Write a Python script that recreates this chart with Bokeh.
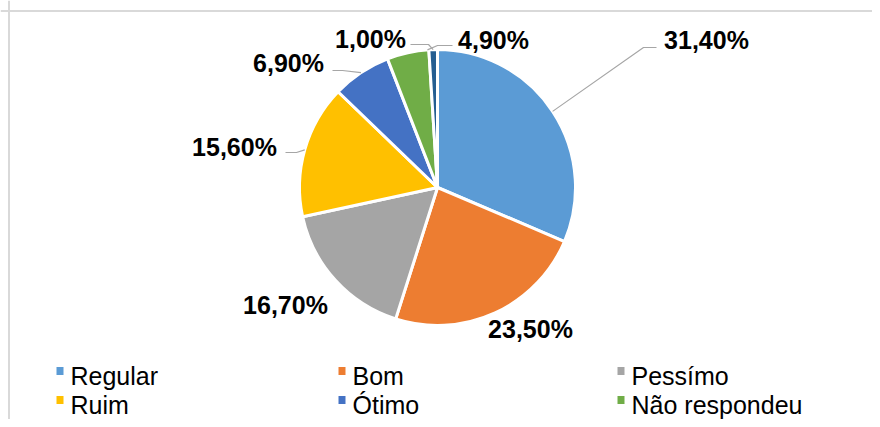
import numpy as np
from bokeh.plotting import figure
from bokeh.models import Range1d, Span, ColumnDataSource
from bokeh.core.properties import value
from bokeh.embed import file_html
from bokeh.resources import INLINE

# ---------------- data ----------------
categories = ["Regular", "Bom", "Pessímo", "Ruim", "Ótimo", "Não respondeu", "Outro"]
percentages = [31.4, 23.5, 16.7, 15.6, 6.9, 4.9, 1.0]
label_texts = ["31,40%", "23,50%", "16,70%", "15,60%", "6,90%", "4,90%", "1,00%"]
legend_categories = ["Regular", "Bom", "Pessímo", "Ruim", "Ótimo", "Não respondeu"]

# ---------------- styles / layout ----------------
colors = ["#5B9BD5", "#ED7D31", "#A5A5A5", "#FFC000", "#4472C4", "#70AD47", "#255E91"]
W, H = 872, 419
TXT_SHIFT = 9  # renderer places alphabetic baseline lower; compensate


def dx(X):  # picture x -> data x
    return X


def dy(Y):  # picture y -> data y (y up)
    return H - Y


def ty(Y):  # text baseline position
    return dy(Y - TXT_SHIFT)


CX, CY, R = dx(437), dy(187), 138

# label anchor positions (picture coords: center x, baseline y)
label_pos = [(706, 48), (530, 337), (285, 313), (234, 155), (288, 71), (493, 48), (370, 47)]
# leader lines: (start, elbow) in picture coords, or None
leaders = [((656, 47), (643, 47)), None, None, ((285, 152), (296, 152)),
           ((332, 70), (342, 70)), ((452, 45), (437, 45)), ((410, 44), (428, 44))]
anchor_mode = ["mid", "mid", "mid", "mid", "mid", "end", "mid"]

frac = np.array(percentages) / 100.0
cum = np.cumsum(frac)
prev = np.concatenate([[0], cum[:-1]])
start_cw = np.pi / 2 - prev * 2 * np.pi
end_cw = np.pi / 2 - cum * 2 * np.pi

p = figure(width=W, height=H, output_backend="svg", toolbar_location=None,
           x_range=Range1d(0, W), y_range=Range1d(0, H),
           min_border=0, min_border_left=0, min_border_right=0,
           min_border_top=0, min_border_bottom=0)
p.axis.visible = False
p.grid.visible = False
p.outline_line_color = None
p.background_fill_color = "white"
p.border_fill_color = "white"

# frame border (top and left visible)
p.add_layout(Span(location=dy(10.5), dimension="width", line_color="#d9d9d9", line_width=2))
p.add_layout(Span(location=dx(8.5), dimension="height", line_color="#d9d9d9", line_width=2))

src = ColumnDataSource(dict(start=end_cw, end=start_cw, color=colors, cat=categories))
p.wedge(x=CX, y=CY, radius=R, start_angle="start", end_angle="end",
        fill_color="color", line_color="white", line_width=3, source=src)

# leader lines
for i, ld in enumerate(leaders):
    if ld is None:
        continue
    if anchor_mode[i] == "mid":
        a = (start_cw[i] + end_cw[i]) / 2
    else:
        a = end_cw[i] + 0.01
    ax_, ay_ = CX + R * np.cos(a), CY + R * np.sin(a)
    (sx, sy), (ex, ey) = ld
    p.line([dx(sx), dx(ex), ax_], [dy(sy), dy(ey), ay_], line_color="#a6a6a6", line_width=1.2)

# data labels
p.text(x=[dx(x) for x, _ in label_pos], y=[ty(y) for _, y in label_pos], text=label_texts,
       text_font=value("Liberation Sans"), text_font_style="bold", text_font_size="25px",
       text_color="black", text_align="center", text_baseline="alphabetic")

# legend
col_x = [56, 338, 617]
row_base = [384, 413]
for k, name in enumerate(legend_categories):
    r, c = divmod(k, 3)
    p.rect(x=dx(col_x[c] + 3.5), y=dy(row_base[r] - 13.5), width=7, height=8,
           fill_color=colors[k], line_color=None)
    p.text(x=[dx(col_x[c] + 14)], y=[ty(row_base[r])], text=[name],
           text_font=value("Liberation Sans"), text_font_size="25px",
           text_color="black", text_align="left", text_baseline="alphabetic")

open("out.html", "w").write(file_html(p, INLINE))
